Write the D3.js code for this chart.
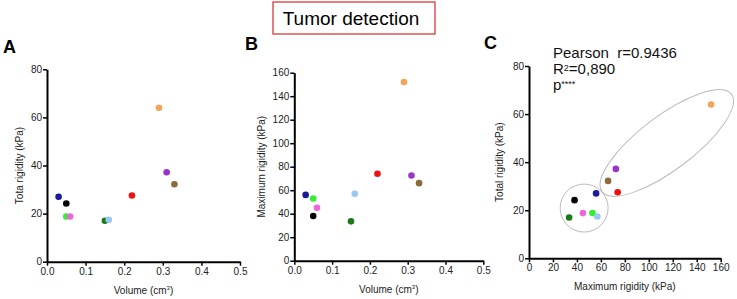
<!DOCTYPE html>
<html>
<head>
<meta charset="utf-8">
<script src="https://cdn.jsdelivr.net/npm/d3@7"></script>
<style>
  body { margin: 0; background: #fff; }
  text { font-family: "Liberation Sans", Arial, sans-serif; }
</style>
</head>
<body>
<div id="vis"></div>
<script>
const width = 737
const height = 299

// one entry per tumour, same order in every array
const colours = ["#1a1a99", "#000000", "#33ee33", "#ee66dd", "#1a7a1a", "#99c8f0", "#ee1111", "#f0a55a", "#9933cc", "#8b6b3a"]
const volume = [0.03, 0.05, 0.05, 0.06, 0.15, 0.16, 0.22, 0.29, 0.31, 0.33]
const totalRigidity = [27, 24.2, 18.8, 18.8, 17, 17.4, 27.5, 64, 37.2, 32.2]
const maxRigidity = [56, 38, 53, 45, 33.5, 57, 74, 152, 72.5, 66]

const volumeTicks = [0, 0.1, 0.2, 0.3, 0.4, 0.5]
const totalTicks = [0, 20, 40, 60, 80]
const maxTicks = [0, 20, 40, 60, 80, 100, 120, 140, 160]

const points = volume.map((v, i) => ({
    volume: v,
    total: totalRigidity[i],
    max: maxRigidity[i],
    colour: colours[i]
}))

const svg = d3.select("#vis")
    .append("svg")
    .attr("width", width)
    .attr("height", height)

// title box
svg.append("rect")
    .attr("x", 273).attr("y", 2)
    .attr("width", 162).attr("height", 32)
    .attr("fill", "none")
    .attr("stroke", "#d83a3a")
    .attr("stroke-width", 1.3)
svg.append("text")
    .attr("x", 351).attr("y", 25)
    .attr("text-anchor", "middle")
    .attr("font-size", 19)
    .text("Tumor detection")

function panel(opts) {
    const xScale = d3.scaleLinear(opts.xDomain, [opts.left, opts.right])
    const yScale = d3.scaleLinear(opts.yDomain, [opts.bottom, opts.top])

    const g = svg.append("g")

    const axisB = d3.axisBottom(xScale)
        .tickValues(opts.xTicks)
        .tickFormat(opts.xFormat)
        .tickSizeInner(4).tickSizeOuter(0).tickPadding(2)
    const axisL = d3.axisLeft(yScale)
        .tickValues(opts.yTicks)
        .tickFormat(d3.format("d"))
        .tickSizeInner(4).tickSizeOuter(0).tickPadding(1)

    const xAxis = g.append("g")
        .attr("transform", `translate(0, ${opts.bottom})`)
        .call(axisB)
    const yAxis = g.append("g")
        .attr("transform", `translate(${opts.left}, 0)`)
        .call(axisL)

    ;[xAxis, yAxis].forEach(a => {
        a.select(".domain").attr("stroke-width", 2)
        a.selectAll(".tick line").attr("stroke-width", 1.5)
        a.selectAll(".tick text").attr("font-size", 10).attr("fill", "#222")
            .style("font-family", "Liberation Sans, Arial, sans-serif")
    })

    // x title
    const xt = g.append("text")
        .attr("x", (opts.left + opts.right) / 2)
        .attr("y", opts.bottom + 32)
        .attr("text-anchor", "middle")
        .attr("font-size", 10)
        .attr("fill", "#222")
    if (opts.xSup) {
        xt.append("tspan").text(opts.xTitle)
        xt.append("tspan").attr("font-size", 6).attr("baseline-shift", "4").text("3")
        xt.append("tspan").text(")")
    } else {
        xt.text(opts.xTitle)
    }

    // y title
    g.append("text")
        .attr("transform", `translate(${opts.yTitleX}, ${(opts.top + opts.bottom) / 2}) rotate(-90)`)
        .attr("text-anchor", "middle")
        .attr("font-size", 10)
        .attr("fill", "#222")
        .text(opts.yTitle)

    // panel letter
    g.append("text")
        .attr("x", opts.letterX).attr("y", opts.letterY)
        .attr("font-size", 18).attr("font-weight", "bold")
        .text(opts.letter)

    g.selectAll("circle.data-point")
        .data(points)
        .join("circle")
            .attr("class", "data-point")
            .attr("cx", d => xScale(d[opts.xKey]))
            .attr("cy", d => yScale(d[opts.yKey]))
            .attr("r", 3.3)
            .attr("fill", d => d.colour)

    return { g, xScale, yScale }
}

panel({
    left: 47, right: 240, top: 69.3, bottom: 261.7,
    xDomain: [0, 0.5], yDomain: [0, 80],
    xTicks: volumeTicks, yTicks: totalTicks, xFormat: d3.format(".1f"),
    xKey: "volume", yKey: "total",
    xTitle: "Volume (cm", xSup: true,
    yTitle: "Tota rigidity (kPa)", yTitleX: 23,
    letter: "A", letterX: 3, letterY: 53
})

panel({
    left: 294.3, right: 483.3, top: 72.7, bottom: 260.7,
    xDomain: [0, 0.5], yDomain: [0, 160],
    xTicks: volumeTicks, yTicks: maxTicks, xFormat: d3.format(".1f"),
    xKey: "volume", yKey: "max",
    xTitle: "Volume (cm", xSup: true,
    yTitle: "Maximum rigidity (kPa)", yTitleX: 265,
    letter: "B", letterX: 245, letterY: 50
})

const c = panel({
    left: 529, right: 720.7, top: 66, bottom: 258.3,
    xDomain: [0, 160], yDomain: [0, 80],
    xTicks: maxTicks, yTicks: totalTicks, xFormat: d3.format("d"),
    xKey: "max", yKey: "total",
    xTitle: "Maximum rigidity (kPa)", xSup: false,
    yTitle: "Total rigidity (kPa)", yTitleX: 503,
    letter: "C", letterX: 484, letterY: 49
})

// group ellipses in panel C
c.g.insert("ellipse", "circle")
    .attr("cx", c.xScale(46)).attr("cy", c.yScale(20.9))
    .attr("rx", 24).attr("ry", 24)
    .attr("fill", "none").attr("stroke", "#bbb").attr("stroke-width", 1)
const bx = c.xScale(115), by = c.yScale(48)
c.g.insert("ellipse", "circle")
    .attr("cx", 0).attr("cy", 0)
    .attr("rx", 81).attr("ry", 27)
    .attr("transform", `translate(${bx}, ${by}) rotate(-37)`)
    .attr("fill", "none").attr("stroke", "#bbb").attr("stroke-width", 1)

// statistics
const statLine = (y) => c.g.append("text")
    .attr("x", 553).attr("y", y)
    .attr("font-size", 15)
    .attr("fill", "#111")
    .style("white-space", "pre")

statLine(58).text("Pearson  r=0.9436")
const r2 = statLine(74)
r2.append("tspan").text("R")
r2.append("tspan").attr("font-size", 9).attr("baseline-shift", "3.5").text("2")
r2.append("tspan").text("=0,890")
const p = statLine(89.5)
p.append("tspan").text("p")
p.append("tspan").attr("font-size", 9).attr("baseline-shift", "3.5").text("****")
</script>
</body>
</html>
